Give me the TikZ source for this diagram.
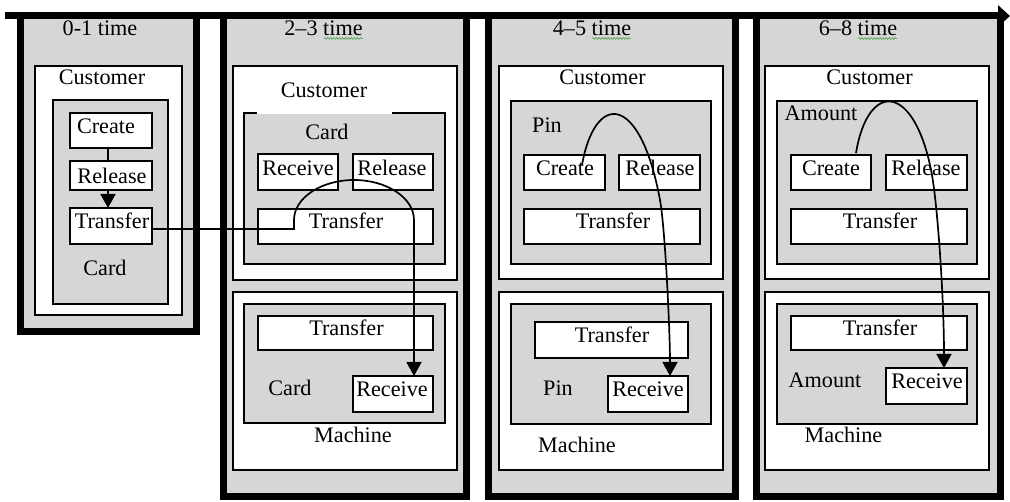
\documentclass[tikz,border=0pt]{standalone}
\usepackage{fontspec}
\setmainfont{Liberation Serif}
\usetikzlibrary{arrows.meta,decorations.pathmorphing}
\definecolor{panelgray}{RGB}{214,214,214}
\definecolor{spellgreen}{RGB}{90,165,90}
% rectangle node given by its corners (x1,y1)-(x2,y2): style, x1, y1, x2, y2, name
\newcommand\boxnode[6]{\node[#1,minimum width={(#4-#2)*1pt},minimum height={(#5-#3)*1pt}] (#6) at ({(#2+#4)/2},{(#3+#5)/2}) {};}
\begin{document}
\begin{tikzpicture}[x=1pt,y=-1pt,
  every node/.style={inner sep=0pt,outer sep=0pt},
  panel/.style={draw,line width=7pt,fill=panelgray},
  wbox/.style={draw,line width=2pt,fill=white},
  gbox/.style={draw,line width=2pt,fill=panelgray},
  lbl/.style={font=\fontsize{22.2}{26}\selectfont},
  conn/.style={line width=1.7pt},
  arr/.style={conn,-{Triangle[width=15pt,length=14pt]}},
  spell/.style={draw=spellgreen,line width=0.7pt,decorate,
    decoration={snake,amplitude=0.9pt,segment length=3pt}}]
\useasboundingbox (0,0) rectangle (1010,502);

% ---- time slot 0-1 ----
\boxnode{panel}{20.5}{16}{196.5}{331.5}{P1}
\boxnode{wbox}{35}{66}{182}{315}{Cu1}
\boxnode{gbox}{53}{100}{168}{304}{Ca1}
\boxnode{wbox}{70}{113}{152}{148}{C1}
\boxnode{wbox}{70}{161}{152}{190}{Rl1}
\boxnode{wbox}{70}{208}{152}{244}{T1}
\node[lbl] (t1) at (100,28.5) {0-1 time};
\node[lbl] (cu1) at (102,77.5) {Customer};
\node[lbl] (c1) at (106,126.5) {Create};
\node[lbl] (rl1) at (112,175.5) {Release};
\node[lbl] (tr1) at (112,221) {Transfer};
\node[lbl] (ca1) at (105,267.5) {Card};

% ---- time slot 2-3 ----
\boxnode{panel}{223}{16}{466}{497}{P2}
\boxnode{wbox}{233}{66}{457}{280}{Cu2}
\boxnode{gbox}{244}{113}{445}{264}{Ca2}
\fill[white] (257,111) rectangle (392,114.3);
\boxnode{wbox}{258}{154}{338}{190}{Rc2}
\boxnode{wbox}{353}{154}{433}{190}{Rl2}
\boxnode{wbox}{258}{209}{433}{244}{T2}
\boxnode{wbox}{233}{292}{457}{470}{M2}
\boxnode{gbox}{244}{304}{445}{423}{Cb2}
\boxnode{wbox}{258}{316}{433}{350}{T2b}
\boxnode{wbox}{353}{376}{433}{412}{R2b}
\node[lbl] (t2) at (323.5,28) {2--3 time};
\node[lbl] (cu2) at (324,90) {Customer};
\node[lbl] (ca2) at (327,132) {Card};
\node[lbl] (rc2) at (298,168) {Receive};
\node[lbl] (rl2) at (392,168) {Release};
\node[lbl] (tr2) at (346,221) {Transfer};
\node[lbl] (tr2b) at (346.5,328) {Transfer};
\node[lbl] (cb2) at (290,388) {Card};
\node[lbl] (rb2) at (392,389) {Receive};
\node[lbl] (m2) at (353,435) {Machine};

% ---- time slot 4-5 ----
\boxnode{panel}{488}{16}{735}{497}{P3}
\boxnode{wbox}{499}{66}{723}{279}{Cu3}
\boxnode{gbox}{511}{101}{711}{264}{Pi3}
\boxnode{wbox}{524}{155}{605}{190}{C3}
\boxnode{wbox}{619}{155}{700}{190}{Rl3}
\boxnode{wbox}{524}{209}{700}{244}{T3}
\boxnode{wbox}{499}{292}{723}{470}{M3}
\boxnode{gbox}{511}{304}{711}{424}{Pb3}
\boxnode{wbox}{535}{322}{688}{358}{T3b}
\boxnode{wbox}{608}{376}{688}{412}{R3b}
\node[lbl] (t3) at (592,28) {4--5 time};
\node[lbl] (cu3) at (602.5,77) {Customer};
\node[lbl] (pi3) at (547,125) {Pin};
\node[lbl] (c3) at (565,168) {Create};
\node[lbl] (rl3) at (660,168) {Release};
\node[lbl] (tr3) at (613,221) {Transfer};
\node[lbl] (tr3b) at (612,335) {Transfer};
\node[lbl] (pb3) at (558,388) {Pin};
\node[lbl] (rb3) at (648,389) {Receive};
\node[lbl] (m3) at (577,445) {Machine};

% ---- time slot 6-8 ----
\boxnode{panel}{756}{16}{1000}{497}{P4}
\boxnode{wbox}{765}{66}{989}{279}{Cu4}
\boxnode{gbox}{777}{101}{977}{264}{Am4}
\boxnode{wbox}{791}{155}{871}{190}{C4}
\boxnode{wbox}{886}{155}{967}{190}{Rl4}
\boxnode{wbox}{791}{209}{967}{244}{T4}
\boxnode{wbox}{765}{292}{989}{470}{M4}
\boxnode{gbox}{777}{304}{977}{424}{Ab4}
\boxnode{wbox}{791}{316}{967}{350}{T4b}
\boxnode{wbox}{886}{368}{967}{404}{R4b}
\node[lbl] (t4) at (858,28) {6--8 time};
\node[lbl] (cu4) at (869.5,77) {Customer};
\node[lbl] (am4) at (821,113) {Amount};
\node[lbl] (c4) at (831,168) {Create};
\node[lbl] (rl4) at (926,168) {Release};
\node[lbl] (tr4) at (880,221) {Transfer};
\node[lbl] (tr4b) at (880,328) {Transfer};
\node[lbl] (ab4) at (825,380) {Amount};
\node[lbl] (rb4) at (927,381) {Receive};
\node[lbl] (m4) at (843.5,435) {Machine};

% spell-check marks under "time"
\foreach \t in {t2,t3,t4}
  \draw[spell] ([xshift=-39pt,yshift=-3pt]\t.south east) -- ([yshift=-3pt]\t.south east);

% ---- connectors ----
\draw[conn] ([xshift=-3pt]C1.south) -- ([xshift=-3pt]Rl1.north);
\draw[arr] ([xshift=-3pt]Rl1.south) -- ([xshift=-3pt]T1.north);

\coordinate (h2) at (294,229);
\coordinate (v2) at (414,220);
\draw[arr] ([yshift=-3pt]T1.east) -- (h2) -- (294,220)
  .. controls (294,198) and (321,180) .. (354,180)
  .. controls (387,180) and (414,198) .. (v2) -- (v2 |- R2b.north);

\coordinate (s3) at (582,165);
\coordinate (v3) at (670,300);
\draw[arr] (s3) .. controls (595,92) and (640,92) .. (660,200)
  .. controls (665,227) and (670,330) .. (v3 |- R3b.north);

\coordinate (s4) at (856,153);
\coordinate (v4) at (944,300);
\draw[arr] (s4) .. controls (868,80) and (915,82) .. (932,175)
  .. controls (938,210) and (944,300) .. (v4 |- R4b.north);

% ---- time axis ----
\coordinate (axL) at (5,16);
\coordinate (axR) at (1010,16);
\draw[line width=7pt,-{Triangle[width=21pt,length=12pt]}] (axL) -- (axR);
\end{tikzpicture}
\end{document}
